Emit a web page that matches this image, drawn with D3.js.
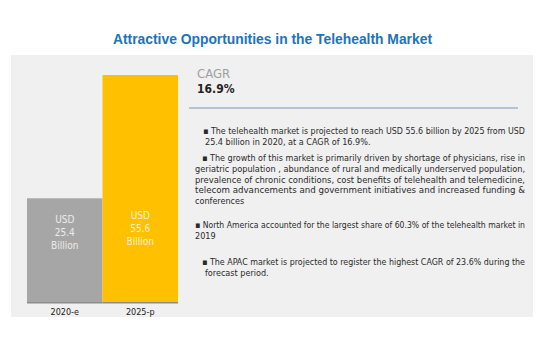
<!DOCTYPE html>
<html>
<head>
<meta charset="utf-8">
<script src="https://cdn.jsdelivr.net/npm/d3@7"></script>
<style>
  body { margin: 0; background: #fff; }
  svg { display: block; }
</style>
</head>
<body>
<div id="holder"></div>
<script>
const years = ["2020-e", "2025-p"];
const values = [25.4, 55.6];
const barColors = ["#a6a6a6", "#ffc000"];
const cagrLabel = "CAGR";
const cagrValue = "16.9%";
const title = "Attractive Opportunities in the Telehealth Market";

// each paragraph keeps the line breaks of the reference
const paragraphs = [
  ["\u25aa The telehealth market is projected to reach USD 55.6 billion by 2025 from USD",
   "25.4 billion in 2020, at a CAGR of 16.9%."],
  ["\u25aa The growth of this market is primarily driven by shortage of physicians, rise in",
   "geriatric population , abundance of rural and medically underserved population,",
   "prevalence of chronic conditions, cost benefits of telehealth and telemedicine,",
   "telecom advancements and government initiatives and increased funding &",
   "conferences"],
  ["\u25aa North America accounted for the largest share of 60.3% of the telehealth market in",
   "2019"],
  ["\u25aa The APAC market is projected to register the highest CAGR of 23.6% during the",
   "forecast period."]
];

const w = 550, h = 347;
const svg = d3.select("#holder").append("svg")
    .attr("width", w)
    .attr("height", h);

const narrow = "'Liberation Sans Narrow', 'DejaVu Sans Condensed', 'Liberation Sans', Arial, sans-serif";

// title
svg.append("text")
    .attr("x", 113)
    .attr("y", 44)
    .attr("font-family", "'Liberation Sans', Arial, sans-serif")
    .attr("font-weight", "bold")
    .attr("font-size", 14)
    .attr("fill", "#1b74bc")
    .attr("textLength", 319)
    .attr("lengthAdjust", "spacingAndGlyphs")
    .text(title);

// panel background
svg.append("rect")
    .attr("x", 11).attr("y", 55)
    .attr("width", 522).attr("height", 262)
    .attr("fill", "#f0f0f0");

// bars
const x = d3.scaleBand().domain(years).range([27, 178]).padding(0);
const y = d3.scaleLinear().domain([0, d3.max(values)]).range([302, 75]);

const bars = svg.append("g");
bars.selectAll("rect.shadow")
    .data(values)
    .enter().append("rect")
    .attr("class", "shadow")
    .attr("x", (d, i) => x(years[i]))
    .attr("y", y(0) - 1)
    .attr("width", x.bandwidth())
    .attr("height", 2.5)
    .attr("fill", "#8c8c8c");

bars.selectAll("rect.bar")
    .data(values)
    .enter().append("rect")
    .attr("class", "bar")
    .attr("x", (d, i) => x(years[i]))
    .attr("y", d => y(d))
    .attr("width", x.bandwidth())
    .attr("height", d => y(0) - y(d))
    .attr("fill", (d, i) => barColors[i]);

// value labels inside bars (placed near the lower part of each bar)
const labelFill = ["#ececec", "#fff4d0"];
const labelRise = [79, 83];
values.forEach((v, i) => {
    const cx = x(years[i]) + x.bandwidth() / 2;
    const y0 = y(0) - labelRise[i];
    const t = svg.append("text")
        .attr("text-anchor", "middle")
        .attr("font-family", narrow)
        .attr("font-size", 10)
        .attr("fill", labelFill[i]);
    ["USD", v.toFixed(1), "Billion"].forEach((s, k) => {
        t.append("tspan")
            .attr("x", cx)
            .attr("y", y0 + k * 12.8)
            .text(s);
    });
});

// x axis labels
const xAxis = svg.append("g")
    .attr("transform", `translate(0, ${y(0) + 4})`)
    .call(d3.axisBottom(x).tickSize(0));
xAxis.select(".domain").remove();
xAxis.selectAll("text")
    .attr("font-family", narrow)
    .attr("font-size", 9)
    .attr("fill", "#222");

// CAGR block
svg.append("text")
    .attr("x", 197).attr("y", 78)
    .attr("font-family", narrow)
    .attr("font-size", 13)
    .attr("fill", "#a0a0a0")
    .text(cagrLabel);
svg.append("text")
    .attr("x", 197).attr("y", 93)
    .attr("font-family", narrow)
    .attr("font-weight", "bold")
    .attr("font-size", 12)
    .attr("fill", "#222")
    .text(cagrValue);
svg.append("line")
    .attr("x1", 189).attr("x2", 518)
    .attr("y1", 108).attr("y2", 108)
    .attr("stroke", "#9fb6cf")
    .attr("stroke-width", 1.5);

// bullet paragraphs
const paraTop = [134, 161, 228, 265];
const lineGap = 10.8;
const firstX = [203, 202, 195, 202];
const restX = [205, 195, 195, 205];
const rightEdge = 525;
const textG = svg.append("g")
    .attr("font-family", narrow)
    .attr("font-size", 9)
    .attr("fill", "#2a2a2a");

paragraphs.forEach((lines, p) => {
    lines.forEach((line, k) => {
        const lx = k === 0 ? firstX[p] : restX[p];
        const t = textG.append("text")
            .attr("x", lx)
            .attr("y", paraTop[p] + k * lineGap)
            .text(line);
        if (k < lines.length - 1) {
            t.attr("textLength", rightEdge - lx)
             .attr("lengthAdjust", "spacingAndGlyphs");
        }
    });
});
</script>
</body>
</html>
